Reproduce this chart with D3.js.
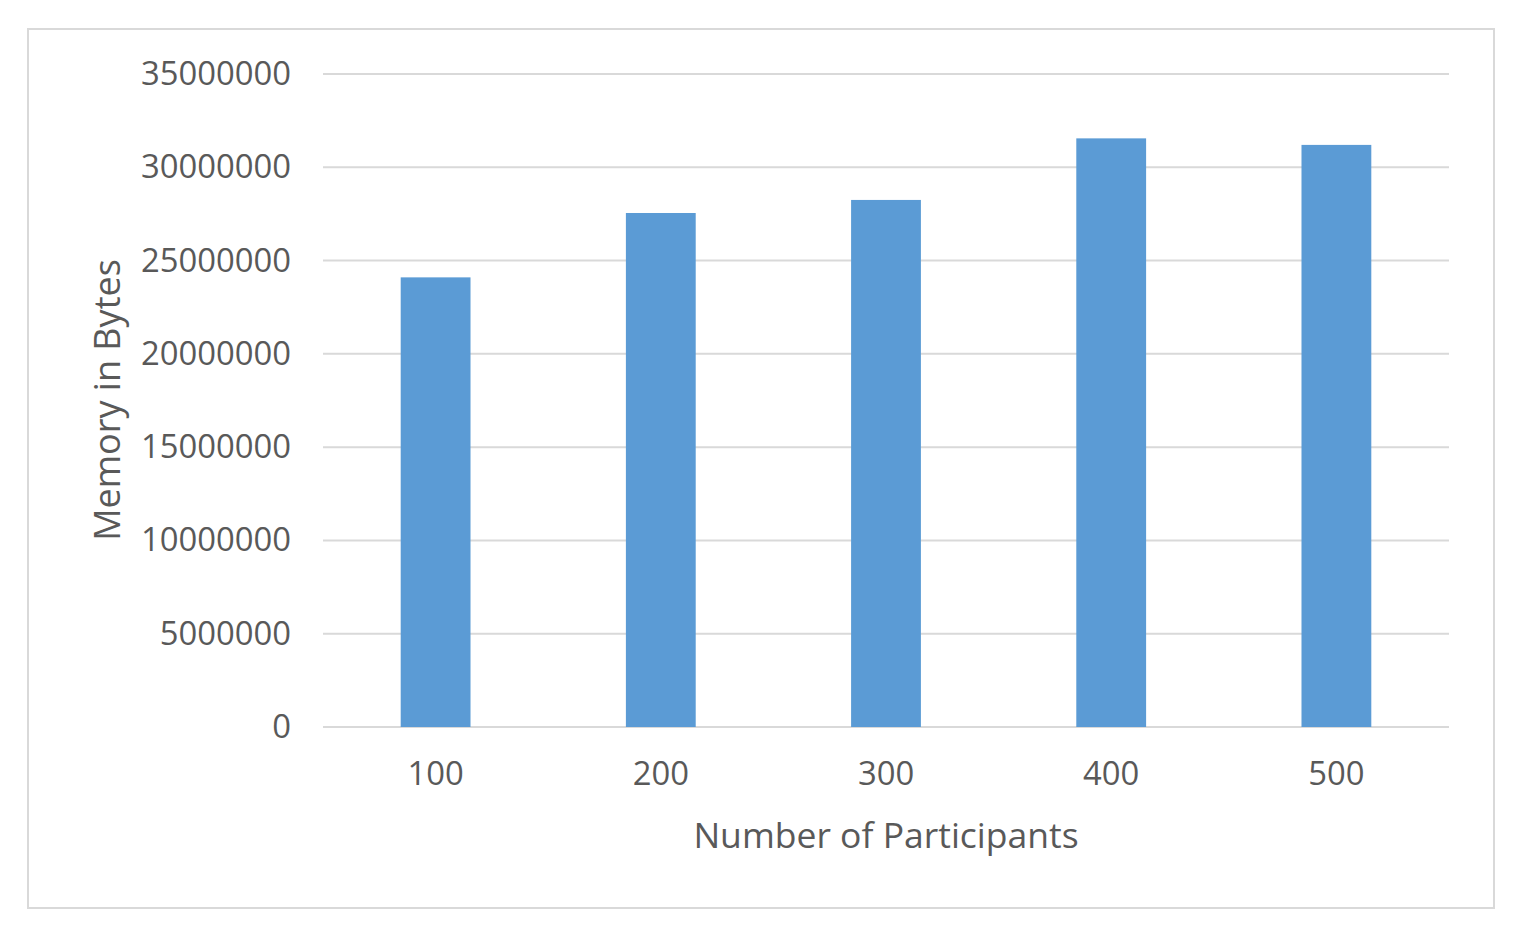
<!DOCTYPE html>
<meta charset="utf-8">
<title>Memory in Bytes</title>
<style>
  body { margin: 0; background: #fff; }
  text { font-family: "Open Sans", sans-serif; fill: #595959; }
  .tick line, .domain { display: none; }
</style>
<script src="https://d3js.org/d3.v7.min.js"></script>
<div id="chart"></div>
<script>
// data
var participants = ["100", "200", "300", "400", "500"];
var memoryBytes = [24100000, 27550000, 28250000, 31550000, 31200000];
var yTicks = [0, 5000000, 10000000, 15000000, 20000000, 25000000, 30000000, 35000000];

var W = 1520, H = 932;
var margin = {top: 74, left: 323, right: 1449, bottom: 727};

var svg = d3.select("#chart").append("svg")
    .attr("width", W)
    .attr("height", H);

// outer frame
svg.append("rect")
    .attr("x", 28).attr("y", 29)
    .attr("width", 1466).attr("height", 879)
    .attr("fill", "#fff")
    .attr("stroke", "#d9d9d9")
    .attr("stroke-width", 2);

var x = d3.scaleBand()
    .domain(participants)
    .range([margin.left, margin.right])
    .paddingInner(0.69)
    .paddingOuter(0.345);

var y = d3.scaleLinear()
    .domain([0, 35000000])
    .range([margin.bottom, margin.top]);

// grid lines
svg.append("g").selectAll("line")
    .data(yTicks)
    .enter().append("line")
    .attr("x1", margin.left).attr("x2", margin.right)
    .attr("y1", function(d) { return y(d); })
    .attr("y2", function(d) { return y(d); })
    .attr("stroke", "#d9d9d9")
    .attr("stroke-width", 2);

// y axis labels
var yAxis = svg.append("g")
    .attr("transform", "translate(" + 291 + ",0)")
    .call(d3.axisLeft(y).tickValues(yTicks).tickSize(0).tickPadding(0).tickFormat(d3.format("d")));
yAxis.selectAll("text")
    .style("font-size", "32.8px")
    .style("font-family", "'Open Sans', sans-serif")
    .attr("fill", "#595959");

// bars
svg.append("g").selectAll("rect")
    .data(memoryBytes)
    .enter().append("rect")
    .attr("x", function(d, i) { return x(participants[i]); })
    .attr("width", x.bandwidth())
    .attr("y", function(d) { return y(d); })
    .attr("height", function(d) { return y(0) - y(d); })
    .attr("fill", "#5b9bd5");

// x axis labels
var xAxis = svg.append("g")
    .attr("transform", "translate(0," + 762 + ")")
    .call(d3.axisBottom(x).tickSize(0).tickPadding(0));
xAxis.selectAll("text")
    .style("font-size", "32.8px")
    .style("font-family", "'Open Sans', sans-serif")
    .attr("fill", "#595959");

// axis titles
svg.append("text")
    .attr("x", (margin.left + margin.right) / 2)
    .attr("y", 848)
    .attr("text-anchor", "middle")
    .style("font-size", "35.5px")
    .text("Number of Participants");

svg.append("text")
    .attr("transform", "translate(120," + 400 + ") rotate(-90)")
    .attr("text-anchor", "middle")
    .style("font-size", "36px")
    .text("Memory in Bytes");
</script>
